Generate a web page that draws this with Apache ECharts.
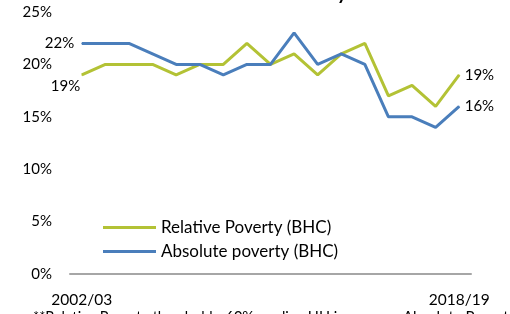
<!DOCTYPE html>
<html>
<head>
<meta charset="utf-8">
<script src="https://cdn.jsdelivr.net/npm/echarts@6/dist/echarts.min.js"></script>
<style>html,body{margin:0;padding:0;background:#fff}#c{width:510px;height:314px}</style>
</head>
<body>
<div id="c"></div>
<script>
var categories = ['2002/03','2003/04','2004/05','2005/06','2006/07','2007/08','2008/09','2009/10','2010/11','2011/12','2012/13','2013/14','2014/15','2015/16','2016/17','2017/18','2018/19'];
var relativePoverty = [19,20,20,20,19,20,20,22,20,21,19,21,22,17,18,16,19];
var absolutePoverty = [22,22,22,21,20,20,19,20,20,23,20,21,20,15,15,14,16];
var yTicks = [0,5,10,15,20,25];

var FONT = 'Lato';
var greenC = '#b3c235';
var blueC = '#4a7ebb';

function build(vals, firstLabel, lastLabel) {
  return vals.map(function (v, i) {
    if (i === 0) return {value: v, label: firstLabel};
    if (i === vals.length - 1) return {value: v, label: lastLabel};
    return v;
  });
}
var lblBase = {show: true, formatter: '{c}%', fontFamily: FONT, fontSize: 15, color: '#000'};
function lbl(extra) { return Object.assign({}, lblBase, extra); }

var chart = echarts.init(document.getElementById('c'));
chart.setOption({
  animation: false,
  grid: {left: 70, right: 39, top: 12, bottom: 40},
  graphic: [
    {type: 'text', right: 163, top: -16, style: {text: 'Poverty', fontFamily: FONT, fontWeight: 'bold', fontSize: 19, fill: '#000'}},
    {type: 'text', left: 33, top: 309.5, style: {text: '**Relative Poverty threshold - 60% median HH income', fontFamily: FONT, fontSize: 14.5, fill: '#000'}},
    {type: 'text', left: 403, top: 309.5, style: {text: 'Absolute Poverty threshold', fontFamily: FONT, fontSize: 15, fill: '#000'}}
  ],
  legend: {
    orient: 'vertical', left: 98, top: 214, itemGap: 7,
    itemWidth: 53, itemHeight: 3, icon: 'rect',
    textStyle: {fontFamily: FONT, fontSize: 17, color: '#000', padding: [0,0,0,0]},
    data: ['Relative Poverty (BHC)', 'Absolute poverty (BHC)']
  },
  xAxis: {
    type: 'category', data: categories, boundaryGap: true,
    axisLine: {lineStyle: {color: '#a6a6a6', width: 2}},
    axisTick: {show: false},
    axisLabel: {
      fontFamily: FONT, fontSize: 15.5, color: '#000', margin: 18,
      interval: function (i) { return i === 0 || i === categories.length - 1; }
    },
    splitLine: {show: false}
  },
  yAxis: {
    type: 'value', min: yTicks[0], max: yTicks[yTicks.length - 1], interval: 5,
    axisLine: {show: false}, axisTick: {show: false}, splitLine: {show: false},
    axisLabel: {fontFamily: FONT, fontSize: 15, color: '#000', margin: 18, formatter: '{value}%'}
  },
  series: [
    {
      name: 'Relative Poverty (BHC)', type: 'line', color: greenC,
      symbol: 'circle', symbolSize: 1,
      lineStyle: {width: 3, color: greenC}, itemStyle: {color: greenC},
      data: build(relativePoverty, lbl({position: 'left', distance: 1, offset: [0, 11]}), lbl({position: 'right', distance: 5})),
      z: 2
    },
    {
      name: 'Absolute poverty (BHC)', type: 'line', color: blueC,
      symbol: 'circle', symbolSize: 1,
      lineStyle: {width: 3, color: blueC}, itemStyle: {color: blueC},
      data: build(absolutePoverty, lbl({position: 'left', distance: 7}), lbl({position: 'right', distance: 5})),
      z: 3
    }
  ]
});
</script>
</body>
</html>
